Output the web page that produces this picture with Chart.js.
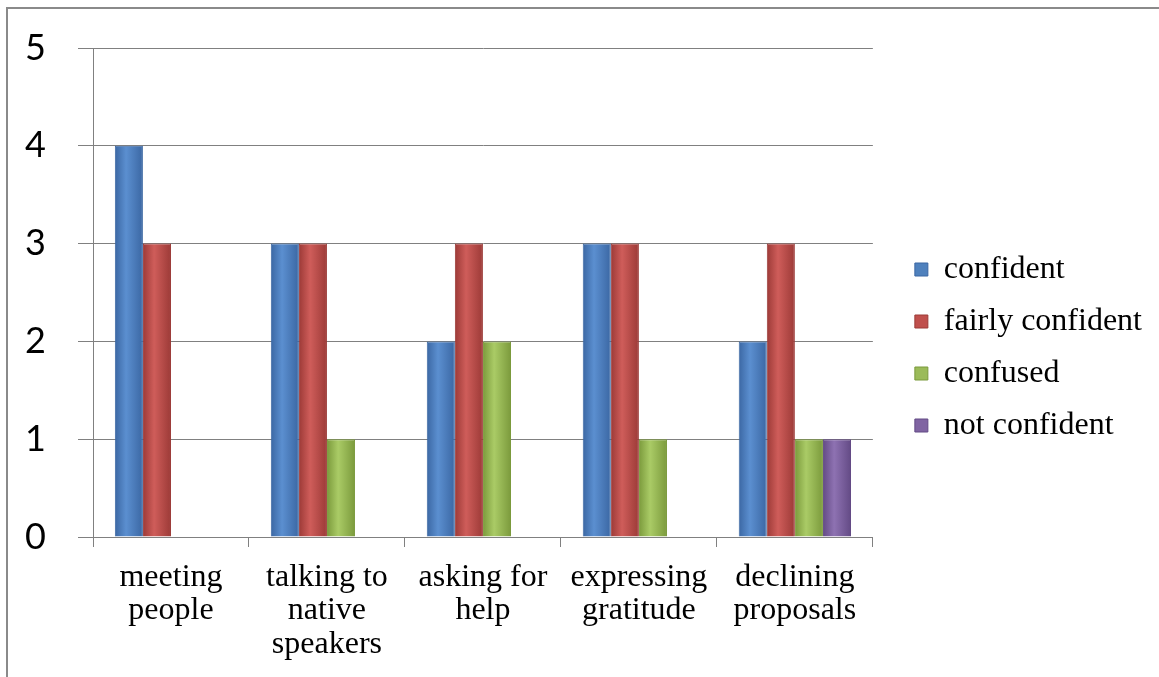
<!DOCTYPE html>
<html>
<head>
<meta charset="utf-8">
<script src="https://cdn.jsdelivr.net/npm/chart.js@4"></script>
<style>
  html, body { margin: 0; padding: 0; background: #fff; }
  #wrap { position: relative; width: 1159px; height: 677px; }
  #frame { position: absolute; left: 6px; top: 7px; right: 0; bottom: 0;
           border-left: 2px solid #8a8a8a; border-top: 2px solid #8a8a8a; pointer-events: none; }
  canvas { position: absolute; left: 0; top: 0; }
</style>
</head>
<body>
<div id="wrap">
  <canvas id="barChart" width="1159" height="677"></canvas>
  <div id="frame"></div>
</div>
<script>
// categories and series
var categories = [
    ["meeting", "people"],
    ["talking to", "native", "speakers"],
    ["asking for", "help"],
    ["expressing", "gratitude"],
    ["declining", "proposals"]
];
var confident = [4, 3, 2, 3, 2];
var fairlyConfident = [3, 3, 3, 3, 3];
var confused = [null, 1, 2, 1, 1];
var notConfident = [null, null, null, null, 1];
var yTicks = [0, 1, 2, 3, 4, 5];

// [base, dark edge, light middle]
var colors = {
    blue: ['#4f81bd', '#3b67a3', '#5b8fd0'],
    red: ['#c0504d', '#9c3a37', '#cf5d5a'],
    green: ['#9bbb59', '#7b9a3c', '#aacb66'],
    purple: ['#8064a2', '#634a85', '#8e72b2']
};

// shade each bar left-to-right like the old office charts
var barShading = {
    id: 'barShading',
    beforeDatasetsDraw: function (chart) {
        var ctx = chart.ctx;
        chart.data.datasets.forEach(function (ds, i) {
            var meta = chart.getDatasetMeta(i);
            meta.data.forEach(function (bar) {
                if (!bar || isNaN(bar.x) || !bar.width) return;
                var g = ctx.createLinearGradient(bar.x - bar.width / 2, 0, bar.x + bar.width / 2, 0);
                g.addColorStop(0, ds.shade[1]);
                g.addColorStop(0.4, ds.shade[2]);
                g.addColorStop(1, ds.shade[1]);
                bar.options = Object.assign({}, bar.options, { backgroundColor: g });
            });
        });
    }
};

// nudge the legend a little right and up, as in the original
var legendNudge = {
    id: 'legendNudge',
    afterLayout: function (chart) {
        var lg = chart.legend;
        if (!lg) return;
        lg.left += 22; lg.right += 22;
        lg.top -= 15; lg.bottom -= 15;
    }
};

document.addEventListener('DOMContentLoaded', function () {
    var ctx = document.getElementById("barChart").getContext('2d');
    var myBarChart = new Chart(ctx, {
        type: 'bar',
        data: {
            labels: categories,
            datasets: [
                { label: "confident", data: confident, backgroundColor: colors.blue[0], borderColor: colors.blue[1], shade: colors.blue },
                { label: "fairly confident", data: fairlyConfident, backgroundColor: colors.red[0], borderColor: colors.red[1], shade: colors.red },
                { label: "confused", data: confused, backgroundColor: colors.green[0], borderColor: colors.green[1], shade: colors.green },
                { label: "not confident", data: notConfident, backgroundColor: colors.purple[0], borderColor: colors.purple[1], shade: colors.purple }
            ]
        },
        plugins: [barShading, legendNudge],
        options: {
            responsive: false,
            animation: false,
            datasets: {
                bar: { categoryPercentage: 0.72, barPercentage: 1, borderWidth: 1 }
            },
            layout: { padding: { top: 48, left: 0, right: 29, bottom: 0 } },
            plugins: {
                tooltip: { enabled: false },
                legend: {
                    position: 'right',
                    align: 'center',
                    labels: {
                        boxWidth: 13,
                        boxHeight: 13,
                        padding: 20,
                        color: '#000',
                        font: { family: "'Liberation Serif', 'Times New Roman', serif", size: 32 }
                    }
                }
            },
            scales: {
                x: {
                    grid: { offset: true, drawOnChartArea: false, tickLength: 10, color: '#808080' },
                    border: { color: '#808080' },
                    ticks: {
                        color: '#000',
                        padding: 14,
                        maxRotation: 0,
                        font: { family: "'Liberation Serif', 'Times New Roman', serif", size: 32, lineHeight: 1.04 }
                    },
                    afterFit: function (scale) { scale.height = 140; }
                },
                y: {
                    min: 0,
                    max: 5,
                    afterBuildTicks: function (scale) {
                        scale.ticks = yTicks.map(function (v) { return { value: v }; });
                    },
                    grid: { color: '#808080', tickLength: 15 },
                    border: { color: '#808080' },
                    ticks: {
                        color: '#000',
                        padding: 32,
                        font: { family: "Lato, 'Open Sans', sans-serif", size: 36 }
                    },
                    afterFit: function (scale) {
                        scale.width = 93;
                        scale.paddingTop = 10;
                        scale.paddingBottom = 10;
                    }
                }
            }
        }
    });
});
</script>
</body>
</html>
